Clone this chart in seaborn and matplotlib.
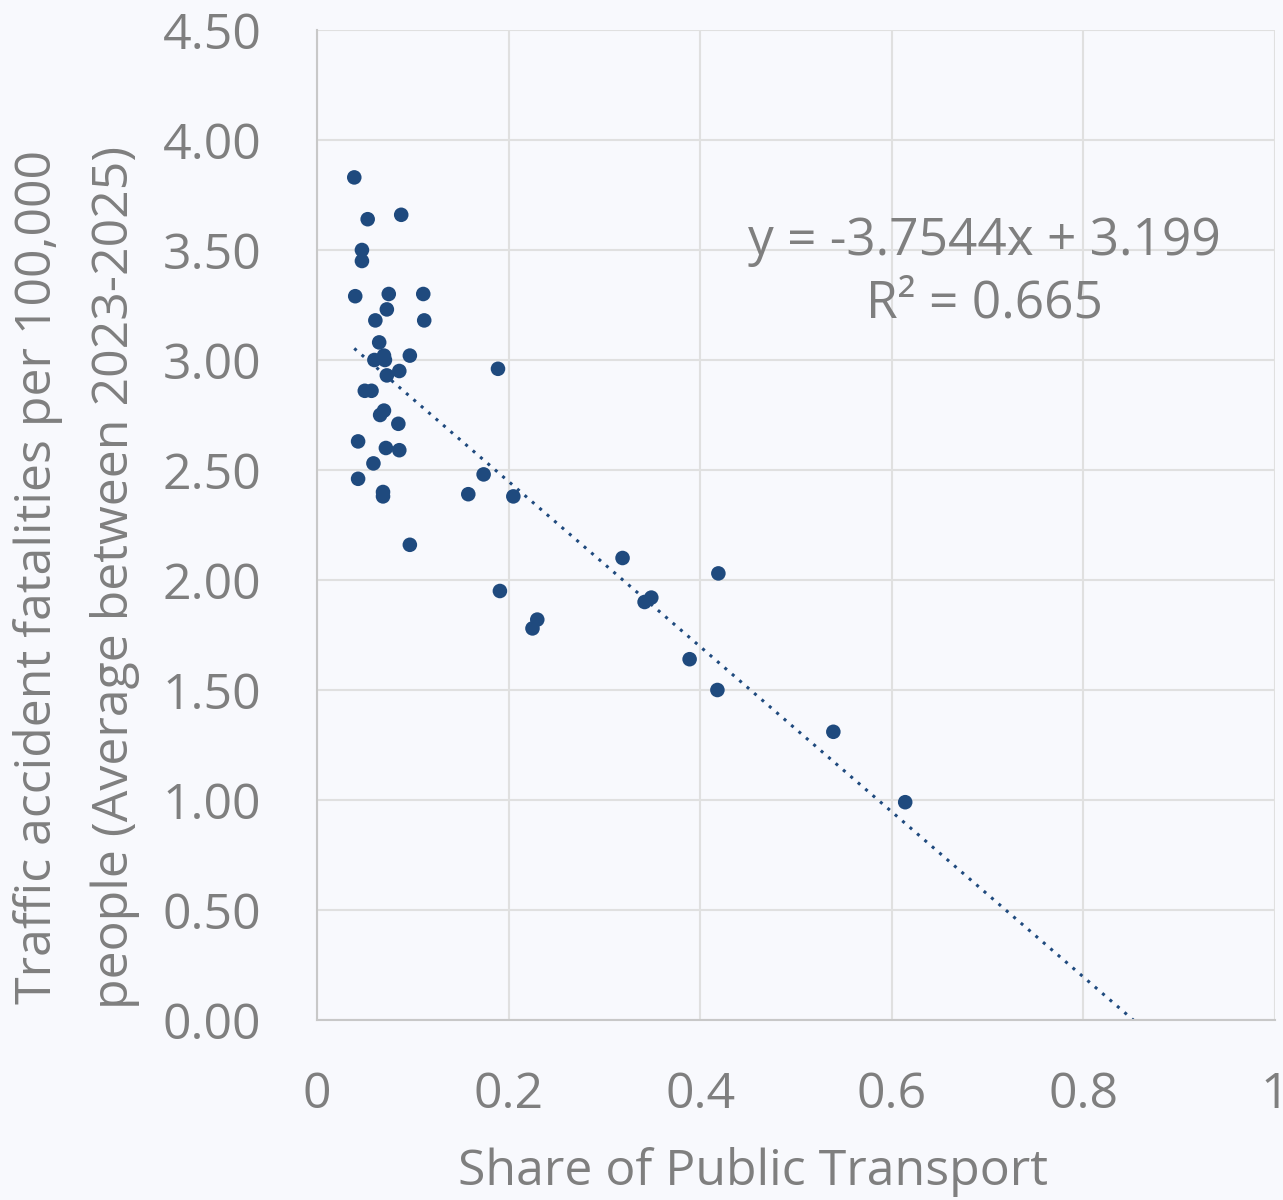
import numpy as np
import pandas as pd
import matplotlib
matplotlib.use("Agg")
import matplotlib.pyplot as plt
import seaborn as sns

# share of public transport vs. fatalities per 100k
share_public = [0.039, 0.053, 0.088, 0.047, 0.047, 0.040, 0.075, 0.111, 0.073, 0.061,
                0.112, 0.065, 0.060, 0.070, 0.071, 0.097, 0.086, 0.073, 0.189, 0.050,
                0.057, 0.070, 0.066, 0.085, 0.043, 0.072, 0.086, 0.059, 0.043, 0.069,
                0.069, 0.174, 0.158, 0.205, 0.097, 0.319, 0.419, 0.191, 0.349, 0.342,
                0.230, 0.225, 0.389, 0.418, 0.539, 0.614]
fatalities = [3.83, 3.64, 3.66, 3.50, 3.45, 3.29, 3.30, 3.30, 3.23, 3.18,
              3.18, 3.08, 3.00, 3.02, 3.00, 3.02, 2.95, 2.93, 2.96, 2.86,
              2.86, 2.77, 2.75, 2.71, 2.63, 2.60, 2.59, 2.53, 2.46, 2.40,
              2.38, 2.48, 2.39, 2.38, 2.16, 2.10, 2.03, 1.95, 1.92, 1.90,
              1.82, 1.78, 1.64, 1.50, 1.31, 0.99]

slope, intercept = -3.7544, 3.199
r_squared = 0.665

x_ticks = [0, 0.2, 0.4, 0.6, 0.8, 1]
x_tick_labels = ["0", "0.2", "0.4", "0.6", "0.8", "1"]
y_ticks = [0, 0.5, 1.0, 1.5, 2.0, 2.5, 3.0, 3.5, 4.0, 4.5]

df = pd.DataFrame({"share": share_public, "fatal": fatalities})

sns.set_style("white")
plt.rcParams["font.family"] = ["Open Sans", "DejaVu Sans"]

bg = "#f8f9fd"
txt = "#7f7f7f"
dot = "#1f4a7e"

fig = plt.figure(figsize=(12.83, 12), dpi=100, facecolor=bg)
ax = fig.add_axes([0.247, 0.15, 0.7468, 0.825])
ax.set_facecolor(bg)

sns.scatterplot(data=df, x="share", y="fatal", ax=ax, color=dot, s=110,
                edgecolor="none", zorder=3)

# dotted trendline, extended to y = 0
x_line = np.array([min(share_public), -intercept / slope])
ax.plot(x_line, slope * x_line + intercept, linestyle=(0, (1, 2.2)), color=dot,
        linewidth=2.2, zorder=2)

ax.text(0.697, 3.395, f"y = {slope}x + {intercept}\nR² = {r_squared}", ha="center",
        va="center", fontsize=37, color=txt, linespacing=1.3)

ax.set_xlim(0, 1)
ax.set_ylim(0, 4.5)
ax.set_xticks(x_ticks)
ax.set_xticklabels(x_tick_labels)
ax.set_yticks(y_ticks)
ax.set_yticklabels([f"{v:.2f}" for v in y_ticks])
ax.grid(True, color="#e0e0e0", linewidth=1.5)
ax.set_axisbelow(True)
for side in ["top", "right"]:
    ax.spines[side].set_visible(False)
for side in ["left", "bottom"]:
    ax.spines[side].set_color("#c8c8c8")
    ax.spines[side].set_linewidth(1.5)
ax.tick_params(axis="both", length=0, labelsize=36, colors=txt)
ax.tick_params(axis="y", pad=40)
ax.tick_params(axis="x", pad=36)

ax.set_xlabel("Share of Public Transport", fontsize=36, color=txt)
ax.xaxis.set_label_coords(0.455, -0.128)
ax.set_ylabel("Traffic accident fatalities per 100,000\npeople (Average between 2023-2025)",
              fontsize=36, color=txt, linespacing=1.7)
ax.yaxis.set_label_coords(-0.185, 0.447)

fig.savefig("out.png", dpi=100, facecolor=bg)
